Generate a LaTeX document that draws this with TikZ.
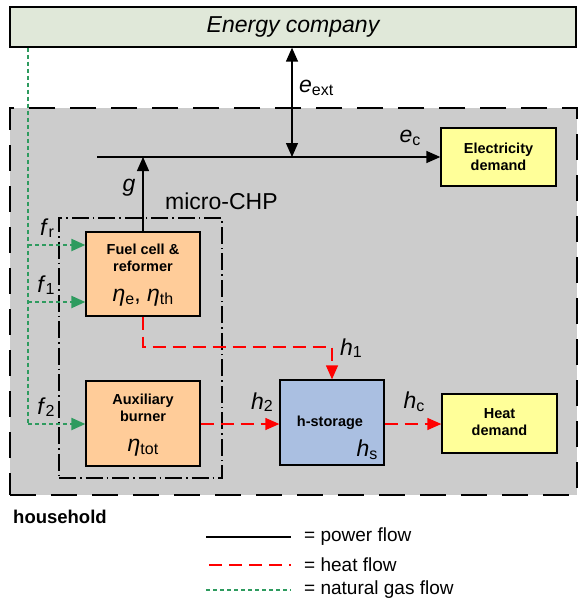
\documentclass[tikz,border=0pt]{standalone}
\usepackage{fontspec}
\setmainfont{Liberation Sans}
\usetikzlibrary{arrows.meta,calc}
\definecolor{ecfill}{HTML}{E0E8D9}
\definecolor{hhfill}{HTML}{CCCCCC}
\definecolor{orangefill}{HTML}{FFCC99}
\definecolor{bluefill}{HTML}{AABFE1}
\definecolor{yellowfill}{HTML}{FFFF99}
\definecolor{gasgreen}{HTML}{2E9B5F}
\newcommand\symb[2]{\textit{#1}{\fontsize{16}{16}\selectfont\raisebox{-0.3ex}{#2}}}
\begin{document}
\begin{tikzpicture}[x=1pt,y=-1pt,
  box/.style={draw=black, line width=1.3pt, inner sep=0pt},
  power/.style={line width=1.3pt, black},
  heat/.style={line width=1.3pt, red, dash pattern=on 13pt off 7pt},
  gas/.style={line width=2.2pt, gasgreen, dash pattern=on 4pt off 3pt},
  tip/.style={-{Triangle[length=14pt,width=12pt]}},
  lbl/.style={font=\fontsize{23}{27}\selectfont, inner sep=0pt},
  btxt/.style={font=\fontsize{14.5}{17}\selectfont\bfseries, align=center, inner sep=0pt},
  leg/.style={font=\fontsize{19}{22}\selectfont, inner sep=0pt, anchor=west}]
\useasboundingbox (0,0) rectangle (579,599);

% household region
\node[draw=black, line width=1.5pt, dash pattern=on 26pt off 15pt, fill=hhfill,
      minimum width=567pt, minimum height=387pt, inner sep=0pt] (hh) at (293.5,301.5) {};
\node[font=\fontsize{18.5}{21}\selectfont\bfseries, inner sep=0pt, anchor=west] (hhlabel) at (13,517) {household};

% energy company
\node[box, fill=ecfill, minimum width=566pt, minimum height=40pt, font=\fontsize{23}{27}\selectfont\itshape] (energy) at (293,27) {Energy company};

% micro-CHP boundary
\node[draw=black, line width=1.3pt, dash pattern=on 17pt off 4pt on 1.5pt off 4pt,
      minimum width=163pt, minimum height=260pt, inner sep=0pt] (chp) at (140.5,348) {};
\node[lbl, anchor=west] (chplabel) at (165,201) {micro-CHP};

% components
\node[box, fill=orangefill, minimum width=114pt, minimum height=84pt] (fuel) at (143,274) {};
\node[btxt] (fueltxt) at (143,257.5) {Fuel cell \&\\reformer};
\node[lbl] (fueleta) at (143,298) {\symb{η}{e}, \symb{η}{th}};

\node[box, fill=orangefill, minimum width=114pt, minimum height=85pt] (burner) at (143,423.5) {};
\node[btxt] (burnertxt) at (143,407.5) {Auxiliary\\burner};
\node[lbl] (burnereta) at (143,448) {\symb{η}{tot}};

\node[box, fill=bluefill, minimum width=104pt, minimum height=85pt] (storage) at (332,422.5) {};
\node[btxt] (storagetxt) at (330,423) {h-storage};
\node[lbl] (hs) at (367,450) {\symb{h}{s}};

\node[box, fill=yellowfill, minimum width=115pt, minimum height=59pt] (heat) at (499.5,423.5) {};
\node[btxt] (heattxt) at (499.5,422.5) {Heat\\demand};

\node[box, fill=yellowfill, minimum width=115pt, minimum height=58pt] (elec) at (498.5,157) {};
\node[btxt] (electxt) at (498.5,157) {Electricity\\demand};

% power flows
\coordinate (pstart) at (97,157);
\coordinate (gtop) at (143,157);
\coordinate (ebot) at (292,157);
\draw[power, tip] (pstart) -- (elec.west);
\draw[power, tip] (fuel.north) -- (gtop);
\draw[power, {Triangle[length=14pt,width=12pt]}-{Triangle[length=14pt,width=12pt]}] (energy.south -| ebot) -- (ebot);
\node[lbl, anchor=west] (eext) at (299,88) {\symb{e}{ext}};
\node[lbl] (ec) at (410,138) {\symb{e}{c}};
\node[lbl] (glabel) at (129,188) {\textit{g}};

% gas flows
\coordinate (gA) at (28,245);
\coordinate (gB) at (28,302);
\coordinate (gC) at (28,424);
\draw[gas] (energy.south -| gA) -- (gC);
\draw[gas, tip] (gC) -- (burner.west |- gC);
\draw[gas, tip] (gA) -- (fuel.west |- gA);
\draw[gas, tip] (gB) -- (fuel.west |- gB);
\node[lbl] (fr) at (47,228) {\symb{f}{r}};
\node[lbl] (f1) at (46,285) {\symb{f}{1}};
\node[lbl] (f2) at (46,407) {\symb{f}{2}};

% heat flows
\coordinate (hbend1) at (143,347);
\coordinate (hbend2) at (332,347);
\draw[heat, tip] (fuel.south) -- (hbend1) -- (hbend2) -- (storage.north);
\draw[heat, tip] (burner.east |- gC) -- (storage.west |- gC);
\draw[heat, tip] (storage.east |- gC) -- (heat.west |- gC);
\node[lbl] (h1) at (351,348) {\symb{h}{1}};
\node[lbl] (h2) at (262,402) {\symb{h}{2}};
\node[lbl] (hc) at (414,402) {\symb{h}{c}};

% legend
\coordinate (l1a) at (206,537); \coordinate (l1b) at (291,537);
\coordinate (l2a) at (206,565); \coordinate (l2b) at (291,565);
\coordinate (l3a) at (206,590); \coordinate (l3b) at (291,590);
\draw[power] (l1a) -- (l1b);
\draw[heat, dash phase=17pt] (l2a) -- (l2b);
\draw[gas] (l3a) -- (l3b);
\node[leg] (t1) at (304,537) {= power flow};
\node[leg] (t2) at (304,565) {= heat flow};
\node[leg] (t3) at (304,590) {= natural gas flow};
\end{tikzpicture}
\end{document}
